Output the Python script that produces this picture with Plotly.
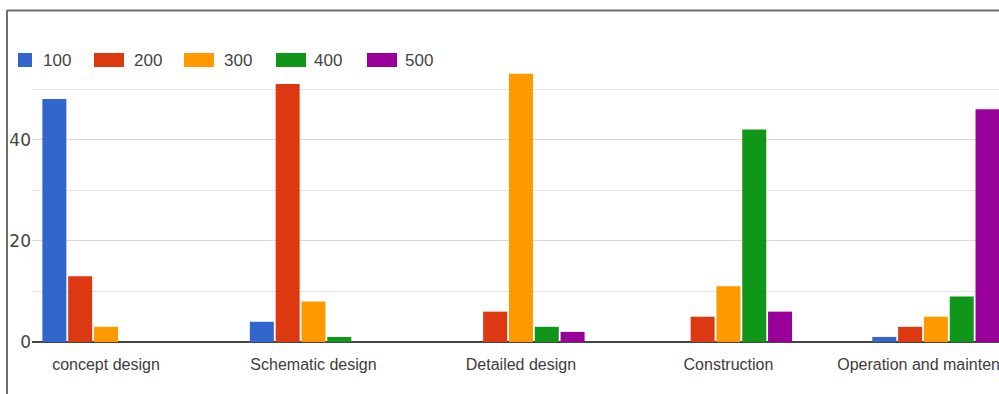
import plotly.graph_objects as go

# Survey responses per project stage, grouped by rating level
stages = ["concept design", "Schematic design", "Detailed design", "Construction",
          "Operation and maintenance"]
levels = ["100", "200", "300", "400", "500"]
counts_100 = [48, 4, 0, 0, 1]
counts_200 = [13, 51, 6, 5, 3]
counts_300 = [3, 8, 53, 11, 5]
counts_400 = [0, 1, 3, 42, 9]
counts_500 = [0, 0, 2, 6, 46]
y_ticks = [0, 20, 40]

series = [counts_100, counts_200, counts_300, counts_400, counts_500]
colors = ["#3366cc", "#dc3912", "#ff9900", "#109618", "#990099"]

W, H = 999, 394
ML, MR, MT, MB = 32, 0, 64, 52
PW, PH = W - ML - MR, H - MT - MB


def px_x(x):
    return (x - ML) / PW


def px_y(y):
    return (H - MB - y) / PH


fig = go.Figure()
for name, vals, col in zip(levels, series, colors):
    fig.add_trace(go.Bar(name=name, x=stages, y=vals, marker_color=col,
                         marker_line_width=0, showlegend=False))

# Legend row: coloured swatches with labels
swatches = [(18, 32), (94, 124), (184, 214), (276, 306), (367, 397)]
label_x = [41, 132, 222, 312, 403]
shapes = []
annotations = []
for (x0, x1), lx, name, col in zip(swatches, label_x, levels, colors):
    shapes.append(dict(type="rect", xref="paper", yref="paper",
                       x0=px_x(x0), x1=px_x(x1), y0=px_y(67), y1=px_y(53),
                       fillcolor=col, line_width=0, layer="above"))
    annotations.append(dict(xref="paper", yref="paper", x=px_x(lx), y=px_y(60),
                            xanchor="left", yanchor="middle", text=name,
                            showarrow=False,
                            font=dict(family="Liberation Sans, Arial", size=17,
                                      color="#444444")))

# Outer frame (left and top edges)
shapes.append(dict(type="line", xref="paper", yref="paper",
                   x0=px_x(7), x1=px_x(999), y0=px_y(10.5), y1=px_y(10.5),
                   line=dict(color="#6e6e6e", width=2)))
shapes.append(dict(type="line", xref="paper", yref="paper",
                   x0=px_x(7), x1=px_x(7), y0=px_y(10), y1=px_y(394),
                   line=dict(color="#6e6e6e", width=2)))

fig.update_layout(
    width=W, height=H,
    margin=dict(l=ML, r=MR, t=MT, b=MB, pad=0, autoexpand=False),
    paper_bgcolor="white", plot_bgcolor="white",
    barmode="group", bargap=0.378, bargroupgap=0.07,
    shapes=shapes, annotations=annotations,
    xaxis=dict(range=[-0.3566, 4.304], showgrid=False, showline=False,
               zeroline=False, ticks="", automargin=False, ticklabelstandoff=11,
               tickfont=dict(family="Liberation Sans, Arial", size=16,
                             color="#3c3c3c")),
    yaxis=dict(range=[0, PH / 5.06], tickvals=y_ticks, ticks="", automargin=False,
               showgrid=True, gridcolor="#d9d9d9", gridwidth=1,
               minor=dict(dtick=10, showgrid=True, gridcolor="#e4e4e4", gridwidth=1),
               zeroline=True, zerolinecolor="#444444", zerolinewidth=2,
               showline=False,
               tickfont=dict(family="DejaVu Sans", size=17, color="#444444")),
)

fig.write_html("out.html")
